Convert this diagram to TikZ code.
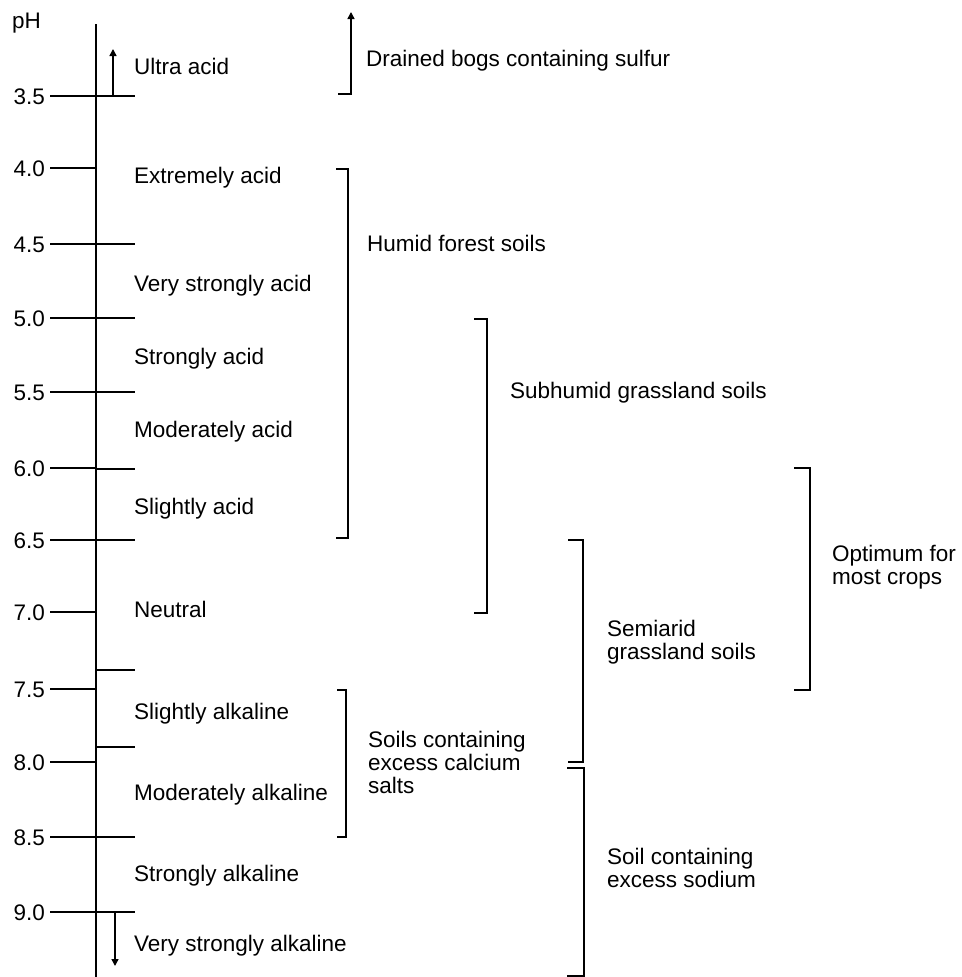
\documentclass[tikz,border=0pt]{standalone}
\usepackage{fontspec}
\setmainfont{Liberation Sans}
\usetikzlibrary{arrows.meta}
\tikzset{
  ln/.style={line width=1.5pt, line cap=butt},
  lbl/.style={anchor=base west, inner sep=0pt, font=\fontsize{22.5}{23}\selectfont},
  mlbl/.style={anchor=west, inner sep=0pt, align=left, font=\fontsize{22.5}{23}\selectfont},
  num/.style={anchor=base east, inner sep=0pt, font=\fontsize{22.5}{23}\selectfont},
  tipup/.style={ln, -{Triangle[width=7pt,length=7pt]}}
}
\begin{document}
\begin{tikzpicture}[x=1pt,y=-1pt]
\useasboundingbox (0,0) rectangle (961,977);
% axis
\coordinate (axtop) at (96,24);
\coordinate (axbot) at (96,977);
\draw[ln] (axtop) -- (axbot);
\node[anchor=base west, inner sep=0pt, font=\fontsize{22.5}{23}\selectfont] (ph) at (12,28) {pH};
% numbers and left ticks
\foreach \nm/\v/\y in {a/3.5/96,b/4.0/168,c/4.5/244,d/5.0/318,e/5.5/392,f/6.0/468,g/6.5/540,h/7.0/612,i/7.5/689,j/8.0/762,k/8.5/837,l/9.0/912}{
  \node[num] (n\nm) at (45,\y+8) {\v};
  \coordinate (t\nm) at (96,\y);
  \draw[ln] (50,\y) -- (t\nm);
}
% right ticks
\foreach \nm/\y in {a/96,c/244,d/318,e/392,f/469,g/540,m/670,n/747,k/837,l/912}{
  \coordinate (r\nm) at (96,\y);
  \draw[ln] (r\nm) -- ++(39,0);
}
% class labels
\node[lbl] (ua) at (134,74) {Ultra acid};
\node[lbl] (ea) at (134,183) {Extremely acid};
\node[lbl] (vsa) at (134,291) {Very strongly acid};
\node[lbl] (sa) at (134,364) {Strongly acid};
\node[lbl] (ma) at (134,437) {Moderately acid};
\node[lbl] (sla) at (134,514) {Slightly acid};
\node[lbl] (neu) at (134,617) {Neutral};
\node[lbl] (slk) at (134,719) {Slightly alkaline};
\node[lbl] (mk) at (134,800) {Moderately alkaline};
\node[lbl] (sk) at (134,881) {Strongly alkaline};
\node[lbl] (vsk) at (134,951) {Very strongly alkaline};
% open-ended arrows
\coordinate (ua0) at (113,96);
\coordinate (ua1) at (113,49);
\draw[tipup] (ua0) -- (ua1);
\coordinate (vk0) at (115,912);
\coordinate (vk1) at (115,966);
\draw[tipup] (vk0) -- (vk1);
% bracket 1: drained bogs
\coordinate (db-b) at (338,94);
\coordinate (db-t) at (351,12);
\draw[tipup] (db-b) -| (db-t);
\node[lbl] (db) at (366,66) {Drained bogs containing sulfur};
% bracket 2: humid forest
\coordinate (hf-t) at (336,169);
\coordinate (hf-b) at (336,538);
\draw[ln] (hf-t) -- ++(12,0) |- (hf-b);
\node[lbl] (hf) at (367,251) {Humid forest soils};
% bracket 3: subhumid
\coordinate (sg-t) at (474,319);
\coordinate (sg-b) at (474,613);
\draw[ln] (sg-t) -- ++(13,0) |- (sg-b);
\node[lbl] (sg) at (510,398) {Subhumid grassland soils};
% bracket 4: optimum
\coordinate (op-t) at (794,468);
\coordinate (op-b) at (794,690);
\draw[ln] (op-t) -- ++(16,0) |- (op-b);
\node[mlbl] (op) at (832,567) {Optimum for\\most crops};
% bracket 5: semiarid
\coordinate (se-t) at (568,540);
\coordinate (se-b) at (568,762);
\draw[ln] (se-t) -- ++(15,0) |- (se-b);
\node[mlbl] (se) at (607,642) {Semiarid\\grassland soils};
% bracket 6: calcium
\coordinate (ca-t) at (337,690);
\coordinate (ca-b) at (337,837);
\draw[ln] (ca-t) -- ++(9,0) |- (ca-b);
\node[mlbl] (ca) at (368,762) {Soils containing\\excess calcium\\salts};
% bracket 7: sodium
\coordinate (so-t) at (567,768);
\coordinate (so-b) at (567,976);
\draw[ln] (so-t) -- ++(17,0) |- (so-b);
\node[mlbl] (so) at (607,868) {Soil containing\\excess sodium};
\end{tikzpicture}
\end{document}
